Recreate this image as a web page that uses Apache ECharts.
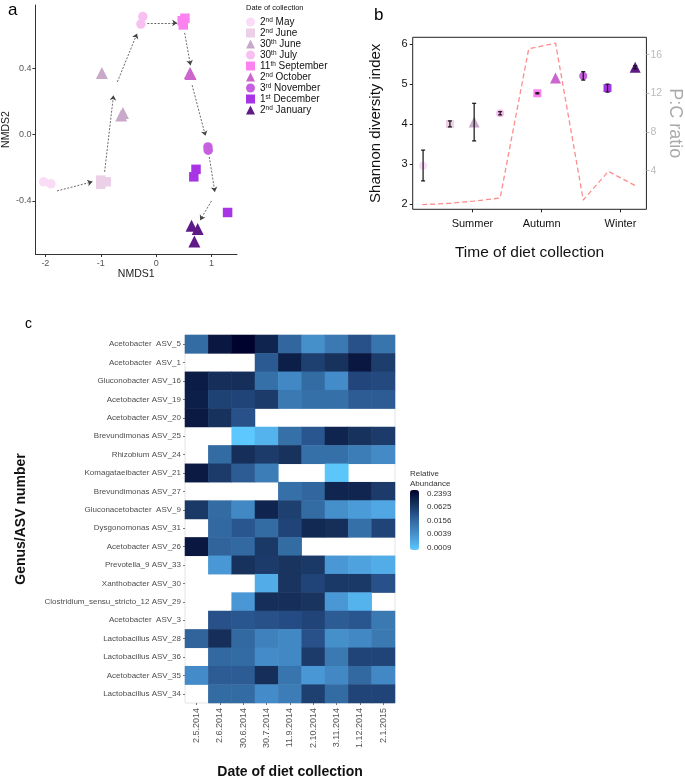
<!DOCTYPE html>
<html>
<head>
<meta charset="utf-8">
<script src="https://cdn.jsdelivr.net/npm/echarts@6/dist/echarts.min.js"></script>
<style>html,body{margin:0;padding:0;background:#fff;}#chart{width:685px;height:782px;}</style>
</head>
<body>
<div id="chart"></div>
<script>
// ---------- Panel a: NMDS ----------
const dateNames = ['2nd May','2nd June','30th June','30th July','11th September','2nd October','3rd November','1st December','2nd January'];
const dateColors = ['#FADCF6','#EBD0E8','#C9A9C9','#F8C0F2','#FC82F0','#CC66CC','#C660E0','#A834E6','#5E1A86'];
const dateSymbols = ['circle','rect','triangle','circle','rect','triangle','circle','rect','triangle'];
const pointGroup = [0,0, 1,1,1, 2,2,2, 3,3, 4,4,4, 5,5, 6,6, 7,7,7, 8,8,8];
const nmds1 = [-2.03,-1.90, -1.00,-0.90,-1.00, -0.98,-0.60,-0.63, -0.24,-0.275, 0.52,0.49,0.47, 0.61,0.62, 0.935,0.94, 0.72,0.68,1.29, 0.64,0.75,0.69];
const nmds2 = [-0.285,-0.297, -0.30,-0.285,-0.275, 0.37,0.13,0.115, 0.71,0.665, 0.70,0.66,0.685, 0.37,0.365, -0.075,-0.095, -0.21,-0.255,-0.47, -0.55,-0.57,-0.645];
const arrowFromX = [-1.79,-0.93,-0.70,-0.16,0.515,0.65,0.96,1.00];
const arrowFromY = [-0.34,-0.225,0.317,0.672,0.612,0.297,-0.135,-0.40];
const arrowToX = [-1.15,-0.77,-0.345,0.38,0.62,0.89,1.06,0.795];
const arrowToY = [-0.285,0.236,0.608,0.672,0.417,-0.008,-0.346,-0.516];
const nmds1Ticks = [-2,-1,0,1];
const nmds2Ticks = [-0.4,0,0.4];

// ---------- Panel b: Shannon diversity ----------
const sampleDays = [122,153,181,211,254,275,307,335,367];
const shannonMean = [2.96,4.00,4.05,4.27,4.77,5.15,5.20,4.90,5.42];
const shannonLow = [2.58,3.93,3.58,4.23,4.755,null,5.10,4.80,5.38];
const shannonHigh = [3.35,4.08,4.52,4.31,4.785,null,5.31,5.00,5.46];
const pcDays = [121,153,181,211,244,275,307,336,367];
const pcRatio = [0.48,0.62,0.85,1.17,16.6,17.2,0.96,3.93,2.45];
const seasonDays = [179,259,350];
const seasonLabels = ['Summer','Autumn','Winter'];
const shannonTicks = [2,3,4,5,6];
const pcTicks = [4,8,12,16];

// ---------- Panel c: heatmap ----------
const taxa = ['Acetobacter  ASV_5','Acetobacter  ASV_1','Gluconobacter ASV_16','Acetobacter ASV_19','Acetobacter ASV_20','Brevundimonas ASV_25','Rhizobium ASV_24','Komagataeibacter ASV_21','Brevundimonas ASV_27','Gluconacetobacter  ASV_9','Dysgonomonas ASV_31','Acetobacter ASV_26','Prevotella_9 ASV_33','Xanthobacter ASV_30','Clostridium_sensu_stricto_12 ASV_29','Acetobacter  ASV_3','Lactobacillus ASV_28','Lactobacillus ASV_36','Acetobacter ASV_35','Lactobacillus ASV_34'];
const sampleDates = ['2.5.2014','2.6.2014','30.6.2014','30.7.2014','11.9.2014','2.10.2014','3.11.2014','1.12.2014','2.1.2015'];
// log2 of relative abundance (null = absent)
const log2Abundance = [
  [-6.2,-2.8,-2.1,-3.3,-6.0,-7.8,-6.8,-5.2,-6.6],
  [null,null,null,-5.5,-3.1,-4.5,-3.9,-2.8,-4.4],
  [-3.0,-3.8,-3.8,-6.4,-7.5,-6.2,-7.7,-4.8,-4.9],
  [-3.1,-4.6,-4.7,-4.3,-6.8,-6.4,-6.4,-5.6,-5.6],
  [-2.9,-3.9,-5.2,null,null,null,null,null,null],
  [null,null,-9.9,-9.2,-6.4,-5.4,-3.3,-3.9,-4.3],
  [null,-6.2,-3.8,-4.3,-3.9,-6.4,-6.4,-7.0,-7.6],
  [-2.9,-4.3,-5.6,-7.0,null,null,-9.8,null,null],
  [null,null,null,null,-6.4,-6.0,-3.4,-3.4,-4.3],
  [-4.2,-6.2,-7.5,-3.3,-4.5,-6.2,-7.8,-8.3,-8.8],
  [null,-6.1,-5.4,-6.2,-4.7,-3.5,-3.8,-6.4,-4.7],
  [-2.8,-5.9,-6.1,-4.2,-6.2,null,null,null,null],
  [null,-8.2,-3.9,-4.3,-4.0,-4.2,-8.2,-8.6,-9.0],
  [null,null,null,-9.0,-4.0,-4.7,-4.2,-4.2,-5.2],
  [null,null,-8.2,-3.8,-3.8,-4.0,-8.2,-9.2,null],
  [null,-5.2,-5.4,-5.2,-5.0,-4.7,-5.6,-5.4,-6.8],
  [-5.9,-3.8,-6.1,-7.2,-7.5,-5.2,-7.8,-7.5,-6.8],
  [null,-6.1,-6.2,-7.7,-7.5,-4.3,-6.8,-4.7,-4.7],
  [-7.7,-5.6,-5.6,-3.8,-6.6,-8.2,-7.5,-6.1,-7.5],
  [null,-6.2,-6.2,-7.7,-7.0,-4.5,-6.2,-4.7,-4.7]
];
const colorbarLevels = [-2.06,-4,-6,-8,-10];
const colorbarTicks = ['0.2393','0.0625','0.0156','0.0039','0.0009'];
const heatColors = ['#5ECBFF','#52ACE8','#4793D0','#3C7DB7','#31679E','#244B83','#18345F','#0B1D46','#00002C'];

// ---------- build ----------
const series = [];
dateNames.forEach((name, g) => {
  const pts = [];
  pointGroup.forEach((pg, i) => { if (pg === g) pts.push([nmds1[i], nmds2[i]]); });
  series.push({
    name: name, type: 'scatter', xAxisIndex: 0, yAxisIndex: 0,
    symbol: dateSymbols[g], symbolSize: dateSymbols[g] === 'triangle' ? 12 : 9.5,
    itemStyle: { color: dateColors[g], opacity: 1 }, data: pts, z: 3
  });
});
series.push({
  type: 'lines', coordinateSystem: 'cartesian2d', xAxisIndex: 0, yAxisIndex: 0,
  symbol: ['none', 'arrow'], symbolSize: 5,
  lineStyle: { color: '#444', width: 0.8, type: [2, 1.5], opacity: 1 },
  data: arrowFromX.map((x, i) => ({ coords: [[x, arrowFromY[i]], [arrowToX[i], arrowToY[i]]] })),
  z: 2
});
// panel b
series.push({
  type: 'line', xAxisIndex: 1, yAxisIndex: 2, symbol: 'none',
  lineStyle: { color: '#FF8C8C', width: 1.3, type: [5, 3] },
  data: pcDays.map((d, i) => [d, pcRatio[i]]), z: 1
});
sampleDays.forEach((d, i) => {
  const sym = dateSymbols[i];
  series.push({
    name: 'b ' + dateNames[i], type: 'scatter', xAxisIndex: 1, yAxisIndex: 1,
    symbol: sym, symbolSize: sym === 'triangle' ? 11 : 8,
    itemStyle: { color: dateColors[i], opacity: 1 },
    data: [[d, shannonMean[i]]], z: 3
  });
});
series.push({
  type: 'custom', xAxisIndex: 1, yAxisIndex: 1, z: 4,
  data: sampleDays.map((d, i) => [d, shannonLow[i], shannonHigh[i]]).filter(r => r[1] !== null),
  encode: { x: 0, y: [1, 2] },
  renderItem: function (params, api) {
    const lo = api.coord([api.value(0), api.value(1)]);
    const hi = api.coord([api.value(0), api.value(2)]);
    const w = 2;
    const st = { stroke: '#111', lineWidth: 1.2 };
    return { type: 'group', children: [
      { type: 'line', shape: { x1: lo[0], y1: lo[1], x2: hi[0], y2: hi[1] }, style: st },
      { type: 'line', shape: { x1: lo[0] - w, y1: lo[1], x2: lo[0] + w, y2: lo[1] }, style: st },
      { type: 'line', shape: { x1: hi[0] - w, y1: hi[1], x2: hi[0] + w, y2: hi[1] }, style: st }
    ] };
  }
});
// panel c heatmap
const heatData = [];
log2Abundance.forEach((row, r) => row.forEach((v, c) => { if (v !== null) heatData.push([c, r, v]); }));
const heatIndex = series.length;
series.push({
  type: 'heatmap', xAxisIndex: 2, yAxisIndex: 3, data: heatData,
  itemStyle: { borderWidth: 0 }, emphasis: { disabled: true }
});

const supRich = { s: { fontSize: 6.5, verticalAlign: 'top', lineHeight: 10, padding: [0, 0, 3, 0] } };

const option = {
  animation: false,
  backgroundColor: '#fff',
  textStyle: { fontFamily: 'Liberation Sans, Arial, sans-serif' },
  title: [
    { text: 'a', left: 8, top: 2, padding: 0, textStyle: { fontSize: 17, fontWeight: 'normal', color: '#000' } },
    { text: 'b', left: 374, top: 7, padding: 0, textStyle: { fontSize: 17, fontWeight: 'normal', color: '#000' } },
    { text: 'c', left: 25, top: 317, padding: 0, textStyle: { fontSize: 14, fontWeight: 'normal', color: '#000' } },
    { text: 'Date of collection', left: 246, top: 4, padding: 0, textStyle: { fontSize: 7.5, fontWeight: 'normal', color: '#111' } },
    { text: 'Relative\nAbundance', left: 410, top: 469, padding: 0, textStyle: { fontSize: 8, lineHeight: 10, fontWeight: 'normal', color: '#333' } }
  ],
  legend: {
    data: dateNames, orient: 'vertical', left: 246, top: 17, padding: 0,
    itemWidth: 9, itemHeight: 9, itemGap: 1, selectedMode: false,
    formatter: n => n.replace(/^(\d+)(st|nd|rd|th)/, '$1{s|$2}'),
    textStyle: { fontSize: 10, color: '#111', lineHeight: 10, rich: supRich }
  },
  grid: [
    { left: 30, top: 5, width: 207, height: 249 },
    { left: 412.7, top: 37.3, width: 235.6, height: 172, show: true, borderColor: '#222', borderWidth: 1 },
    { left: 185, top: 335, width: 210, height: 368, show: true, borderColor: '#e4e4e4', borderWidth: 1 },
    { left: 410, top: 490, width: 9, height: 62 }
  ],
  xAxis: [
    { type: 'value', gridIndex: 0, min: -2.18, max: 1.46, splitLine: { show: false },
      axisLine: { show: true, onZero: false, lineStyle: { color: '#333', width: 1 } },
      axisTick: { show: true, customValues: nmds1Ticks, length: 3, lineStyle: { color: '#333' } },
      axisLabel: { customValues: nmds1Ticks, formatter: v => String(v), fontSize: 9, color: '#555', margin: 5 },
      name: 'NMDS1', nameLocation: 'middle', nameGap: 14, nameTextStyle: { fontSize: 10.5, color: '#222' } },
    { type: 'value', gridIndex: 1, min: 110, max: 380, splitLine: { show: false },
      axisLine: { show: false },
      axisTick: { show: true, customValues: seasonDays, length: 3, lineStyle: { color: '#222' } },
      axisLabel: { customValues: seasonDays, formatter: v => seasonLabels[seasonDays.indexOf(v)], fontSize: 11, color: '#111', margin: 9 },
      name: 'Time of diet collection', nameLocation: 'middle', nameGap: 35, nameTextStyle: { fontSize: 15.5, color: '#111' } },
    { type: 'category', gridIndex: 2, data: sampleDates, position: 'bottom',
      axisLine: { show: false }, axisTick: { show: true, length: 2, lineStyle: { color: '#777' }, alignWithLabel: true },
      axisLabel: { rotate: 90, interval: 0, fontSize: 9, color: '#555', margin: 5 },
      name: 'Date of diet collection', nameLocation: 'middle', nameGap: 62,
      nameTextStyle: { fontSize: 14, fontWeight: 'bold', color: '#111' } },
    { type: 'value', gridIndex: 3, show: false, min: 0, max: 1 }
  ],
  yAxis: [
    { type: 'value', gridIndex: 0, min: -0.72, max: 0.78, splitLine: { show: false },
      axisLine: { show: true, onZero: false, lineStyle: { color: '#333', width: 1 } },
      axisTick: { show: true, customValues: nmds2Ticks, length: 3, lineStyle: { color: '#333' } },
      axisLabel: { customValues: nmds2Ticks, formatter: v => v.toFixed(1), fontSize: 9, color: '#555', margin: 4 },
      name: 'NMDS2', nameLocation: 'middle', nameGap: 17, nameTextStyle: { fontSize: 10.5, color: '#222' } },
    { type: 'value', gridIndex: 1, min: 1.87, max: 6.17, splitLine: { show: false },
      axisLine: { show: false },
      axisTick: { show: true, customValues: shannonTicks, length: 3, lineStyle: { color: '#222' } },
      axisLabel: { customValues: shannonTicks, fontSize: 11, color: '#111', margin: 5 },
      name: 'Shannon diversity index', nameLocation: 'middle', nameGap: 29, nameTextStyle: { fontSize: 15, color: '#111' } },
    { type: 'value', gridIndex: 1, position: 'right', min: 0, max: 17.8, splitLine: { show: false },
      axisLine: { show: false },
      axisTick: { show: true, customValues: pcTicks, length: 3, lineStyle: { color: '#bbb' } },
      axisLabel: { customValues: pcTicks, fontSize: 10.5, color: '#bbb', margin: 4 },
      name: 'P:C ratio', nameLocation: 'middle', nameGap: 19, nameRotate: -90, nameTextStyle: { fontSize: 18, color: '#aaa' } },
    { type: 'category', gridIndex: 2, data: taxa, inverse: true,
      axisLine: { show: false }, axisTick: { show: true, length: 2, lineStyle: { color: '#777' }, alignWithLabel: true },
      axisLabel: { interval: 0, fontSize: 8, color: '#4d4d4d', margin: 4 },
      name: 'Genus/ASV number', nameLocation: 'middle', nameGap: 157,
      nameTextStyle: { fontSize: 14, fontWeight: 'bold', color: '#111' } },
    { type: 'value', gridIndex: 3, position: 'right', min: -10.6, max: -1.5,
      axisLine: { show: false }, axisTick: { show: false }, splitLine: { show: false },
      axisLabel: { customValues: colorbarLevels, formatter: v => colorbarTicks[colorbarLevels.indexOf(v)], fontSize: 8, color: '#333', margin: 8 } }
  ],
  visualMap: {
    type: 'continuous', seriesIndex: heatIndex, min: -10, max: -2,
    orient: 'vertical', left: 410, top: 490, itemWidth: 9, itemHeight: 60, padding: 0,
    calculable: false, text: null, showLabel: false,
    inRange: { color: heatColors }
  },
  series: series
};

const chart = echarts.init(document.getElementById('chart'), null, { renderer: 'canvas' });
chart.setOption(option);
</script>
</body>
</html>
